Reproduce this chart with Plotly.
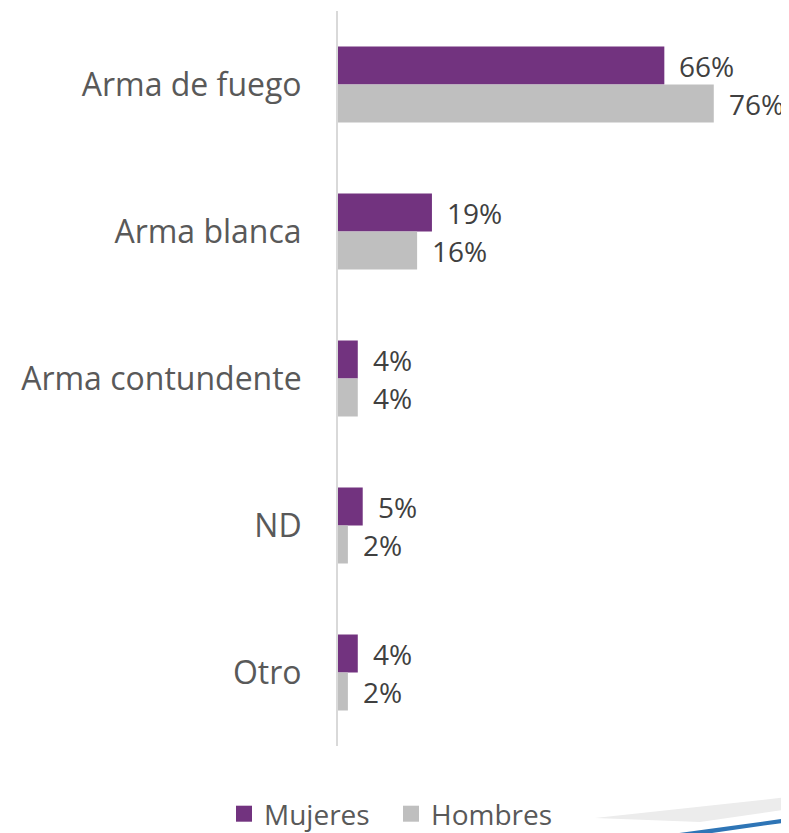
import plotly.graph_objects as go

categories = ["Arma de fuego", "Arma blanca", "Arma contundente", "ND", "Otro"]
mujeres = [66, 19, 4, 5, 4]
hombres = [76, 16, 4, 2, 2]
series_names = ["Mujeres", "Hombres"]

PURPLE = "#72337F"
GRAY = "#BFBFBF"
FONT = "Open Sans"

# page is drawn with an 8px body margin, so work in page coordinates minus 8
OFF = 8
W, H = 789 - OFF, 833 - OFF
PL, PR, PT, PB = 338, 783, 11, 746  # plot area in page pixels
ML, MR, MT = PL - OFF, (W + OFF) - PR, PT - OFF
MB = H - (PB - OFF)
pw, ph = W - ML - MR, H - MT - MB

fig = go.Figure()
fig.add_trace(go.Bar(y=categories, x=mujeres, name=series_names[0], orientation="h",
                     marker=dict(color=PURPLE, line=dict(width=0)), showlegend=False))
fig.add_trace(go.Bar(y=categories, x=hombres, name=series_names[1], orientation="h",
                     marker=dict(color=GRAY, line=dict(width=0)), showlegend=False))
# legend entries with larger square swatches
for nm, col in zip(series_names, [PURPLE, GRAY]):
    fig.add_trace(go.Scatter(x=[None], y=[None], mode="markers", name=nm,
                             marker=dict(symbol="square", size=18, color=col)))

annotations = []
lab_font = dict(family=FONT, size=28, color="#404040")
for cat, m, h in zip(categories, mujeres, hombres):
    annotations.append(dict(x=m, y=cat, text=f"{m}%", xanchor="left", yanchor="middle",
                            xshift=13, yshift=19, showarrow=False, font=lab_font))
    annotations.append(dict(x=h, y=cat, text=f"{h}%", xanchor="left", yanchor="middle",
                            xshift=13, yshift=-19, showarrow=False, font=lab_font))

def px(x, y):
    return (x - PL) / pw, (PB - y) / ph

shapes = []
# decorative swoosh bottom right
pts = [px(595, 818), px(789, 797), px(789, 809), px(700, 822)]
path = "M " + " L ".join(f"{a},{b}" for a, b in pts) + " Z"
shapes.append(dict(type="path", xref="paper", yref="paper", path=path,
                   fillcolor="#ECECEC", line=dict(width=0), layer="below"))
pts = [px(672, 834), px(789, 818), px(789, 822), px(705, 834)]
path = "M " + " L ".join(f"{a},{b}" for a, b in pts) + " Z"
shapes.append(dict(type="path", xref="paper", yref="paper", path=path,
                   fillcolor="#2E75B6", line=dict(width=0), layer="below"))

fig.update_layout(
    width=W, height=H,
    margin=dict(l=ML, r=MR, t=MT, b=MB, autoexpand=False),
    paper_bgcolor="white", plot_bgcolor="white",
    barmode="group", bargap=0.483, bargroupgap=0,
    font=dict(family=FONT, color="#595959"),
    xaxis=dict(range=[0, 90], showgrid=False, zeroline=False, showticklabels=False,
               showline=False, fixedrange=True),
    yaxis=dict(autorange="reversed", showline=True, linecolor="#D9D9D9", linewidth=2,
               ticks="", showgrid=False, ticklabelstandoff=28, automargin=False,
               tickfont=dict(family=FONT, size=32, color="#595959")),
    legend=dict(orientation="h", x=(224 - PL) / pw, xanchor="left",
                y=-(814 - PB) / ph, yanchor="middle",
                font=dict(family=FONT, size=28, color="#595959"),
                itemsizing="trace", traceorder="normal", itemwidth=30,
                entrywidth=122, entrywidthmode="pixels"),
    annotations=annotations,
    shapes=shapes,
)

fig.write_html("out.html")
